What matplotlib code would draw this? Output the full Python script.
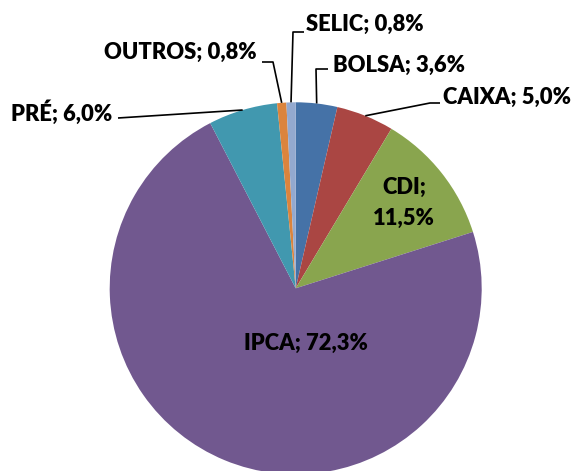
import numpy as np
import matplotlib
matplotlib.use("Agg")
import matplotlib.pyplot as plt

labels = ["BOLSA", "CAIXA", "CDI", "IPCA", "PRÉ", "OUTROS", "SELIC"]
values = [3.6, 5.0, 11.5, 72.3, 6.0, 0.8, 0.8]
colors = ["#4572A7", "#AA4643", "#89A54E", "#71588F", "#4198AF", "#DB843D", "#93A9CF"]

W, H = 574, 471
fig = plt.figure(figsize=(W / 100, H / 100), dpi=100)
ax = fig.add_axes([0, 0, 1, 1])
ax.set_xlim(0, W)
ax.set_ylim(0, H)
ax.set_aspect("equal")
ax.axis("off")

cx, cy, R = 295.7, H - 288.3, 186
wedges, _ = ax.pie(values, colors=colors, startangle=90, counterclock=False,
                   center=(cx, cy), radius=R, frame=True,
                   wedgeprops=dict(linewidth=0))
ax.set_xlim(0, W)
ax.set_ylim(0, H)
ax.axis("off")

font = dict(family=["Lato", "DejaVu Sans"], fontweight="heavy", fontsize=15.8, color="black")

def fmt(v):
    return f"{v:.1f}".replace(".", ",") + "%"

# label layout: name -> (text x, text y (image px), ha, elbow x, elbow y, end x) ; None = inside
layout = {
    "BOLSA": (333, 65, "left", 316, 69, 328),
    "CAIXA": (443, 97, "left", 430, 103, 440),
    "CDI": None,
    "IPCA": None,
    "PRÉ": (112, 113, "right", None, 118, 118),
    "OUTROS": (257, 52, "right", 273, 62, 262),
    "SELIC": (306, 24, "left", 293, 32, 304),
}

for w, name, v in zip(wedges, labels, values):
    mid = np.deg2rad((w.theta1 + w.theta2) / 2)
    ax_, ay_ = cx + R * np.cos(mid), cy + R * np.sin(mid)
    lay = layout[name]
    if lay is None:
        if name == "IPCA":
            ax.text(306, H - 343, f"{name}; {fmt(v)}", ha="center", va="center", **font)
        else:
            ax.text(404, H - 203, f"{name};\n{fmt(v)}", ha="center", va="center",
                    linespacing=1.55, **font)
        continue
    tx, ty, ha, ex, ey, endx = lay
    ax.text(tx, H - ty, f"{name}; {fmt(v)}", ha=ha, va="center", **font)
    if ex is None:
        xs, ys = [ax_, endx], [ay_, H - ey]
    else:
        xs, ys = [ax_, ex, endx], [ay_, H - ey, H - ey]
    ax.plot(xs, ys, color="black", lw=1.2, solid_capstyle="butt")

fig.savefig("out.png", dpi=100)
